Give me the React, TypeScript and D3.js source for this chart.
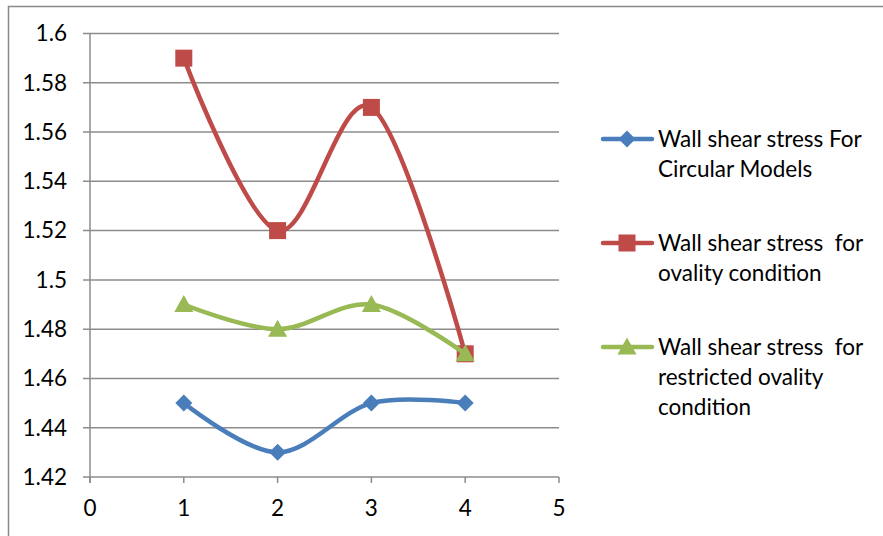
import React from "react";
import * as d3 from "d3";

const xValues = [1, 2, 3, 4];
const circular = [1.45, 1.43, 1.45, 1.45];
const ovality = [1.59, 1.52, 1.57, 1.47];
const restricted = [1.49, 1.48, 1.49, 1.47];
const yTicks = [1.42, 1.44, 1.46, 1.48, 1.5, 1.52, 1.54, 1.56, 1.58, 1.6];
const xTicks = [0, 1, 2, 3, 4, 5];
const legendLabels = [
  ["Wall shear stress For", "Circular Models"],
  ["Wall shear stress  for", "ovality condition"],
  ["Wall shear stress  for", "restricted ovality", "condition"],
];

const colors = ["#4A7EBB", "#BE4B48", "#98B954"];
const FONT = "Lato, 'Open Sans', sans-serif";
const FS = 22.5;

function Marker({ type, x, y, color }: { type: number; x: number; y: number; color: string }) {
  if (type === 0) {
    const s = 8.5;
    return <path d={`M${x},${y - s}L${x + s},${y}L${x},${y + s}L${x - s},${y}Z`} fill={color} />;
  }
  if (type === 1) {
    return <rect x={x - 8.5} y={y - 8.5} width={17} height={17} fill={color} />;
  }
  return <path d={`M${x},${y - 9.5}L${x + 9.5},${y + 7.5}L${x - 9.5},${y + 7.5}Z`} fill={color} />;
}

export default function App() {
  const x = d3.scaleLinear().domain([0, 5]).range([90, 559]);
  const y = d3.scaleLinear().domain([1.42, 1.6]).range([477, 33.5]);
  const series = [circular, ovality, restricted];
  const line = d3
    .line<number>()
    .x((_, i) => x(xValues[i]))
    .y((d) => y(d))
    .curve(d3.curveCatmullRom.alpha(0));

  const legendRows = [139, 243, 347];

  return (
    <svg
      width={883}
      height={536}
      style={{ position: "absolute", left: 0, top: 0, background: "#fff" }}
      fontFamily={FONT}
    >
      <path d="M8.5,536V6.5H883" fill="none" stroke="#898989" strokeWidth={1.5} />
      {yTicks.map((t) => (
        <g key={t}>
          <line x1={83} x2={x(5)} y1={y(t)} y2={y(t)} stroke="#8C8C8C" strokeWidth={1.5} />
          <text x={67} y={y(t)} dy="0.35em" textAnchor="end" fontSize={FS} fill="#000">
            {String(t)}
          </text>
        </g>
      ))}
      <line x1={x(0)} x2={x(0)} y1={y(1.6)} y2={483} stroke="#8C8C8C" strokeWidth={1.5} />
      {xTicks.map((t) => (
        <g key={t}>
          <line x1={x(t)} x2={x(t)} y1={y(1.42)} y2={483} stroke="#8C8C8C" strokeWidth={1.5} />
          <text x={x(t)} y={516} textAnchor="middle" fontSize={FS} fill="#000">
            {t}
          </text>
        </g>
      ))}
      {series.map((s, si) => (
        <g key={si}>
          <path d={line(s) || ""} fill="none" stroke={colors[si]} strokeWidth={4.5} strokeLinecap="round" />
          {s.map((v, i) => (
            <Marker key={i} type={si} x={x(xValues[i])} y={y(v)} color={colors[si]} />
          ))}
        </g>
      ))}
      {legendLabels.map((lines, li) => (
        <g key={li}>
          <line x1={603} x2={652} y1={legendRows[li]} y2={legendRows[li]} stroke={colors[li]} strokeWidth={4.5} strokeLinecap="round" />
          <Marker type={li} x={627} y={legendRows[li]} color={colors[li]} />
          {lines.map((t, k) => (
            <text key={k} x={658} y={legendRows[li] + k * 30} dy="0.35em" fontSize={FS} fill="#000" style={{ whiteSpace: "pre" }}>
              {t}
            </text>
          ))}
        </g>
      ))}
    </svg>
  );
}
